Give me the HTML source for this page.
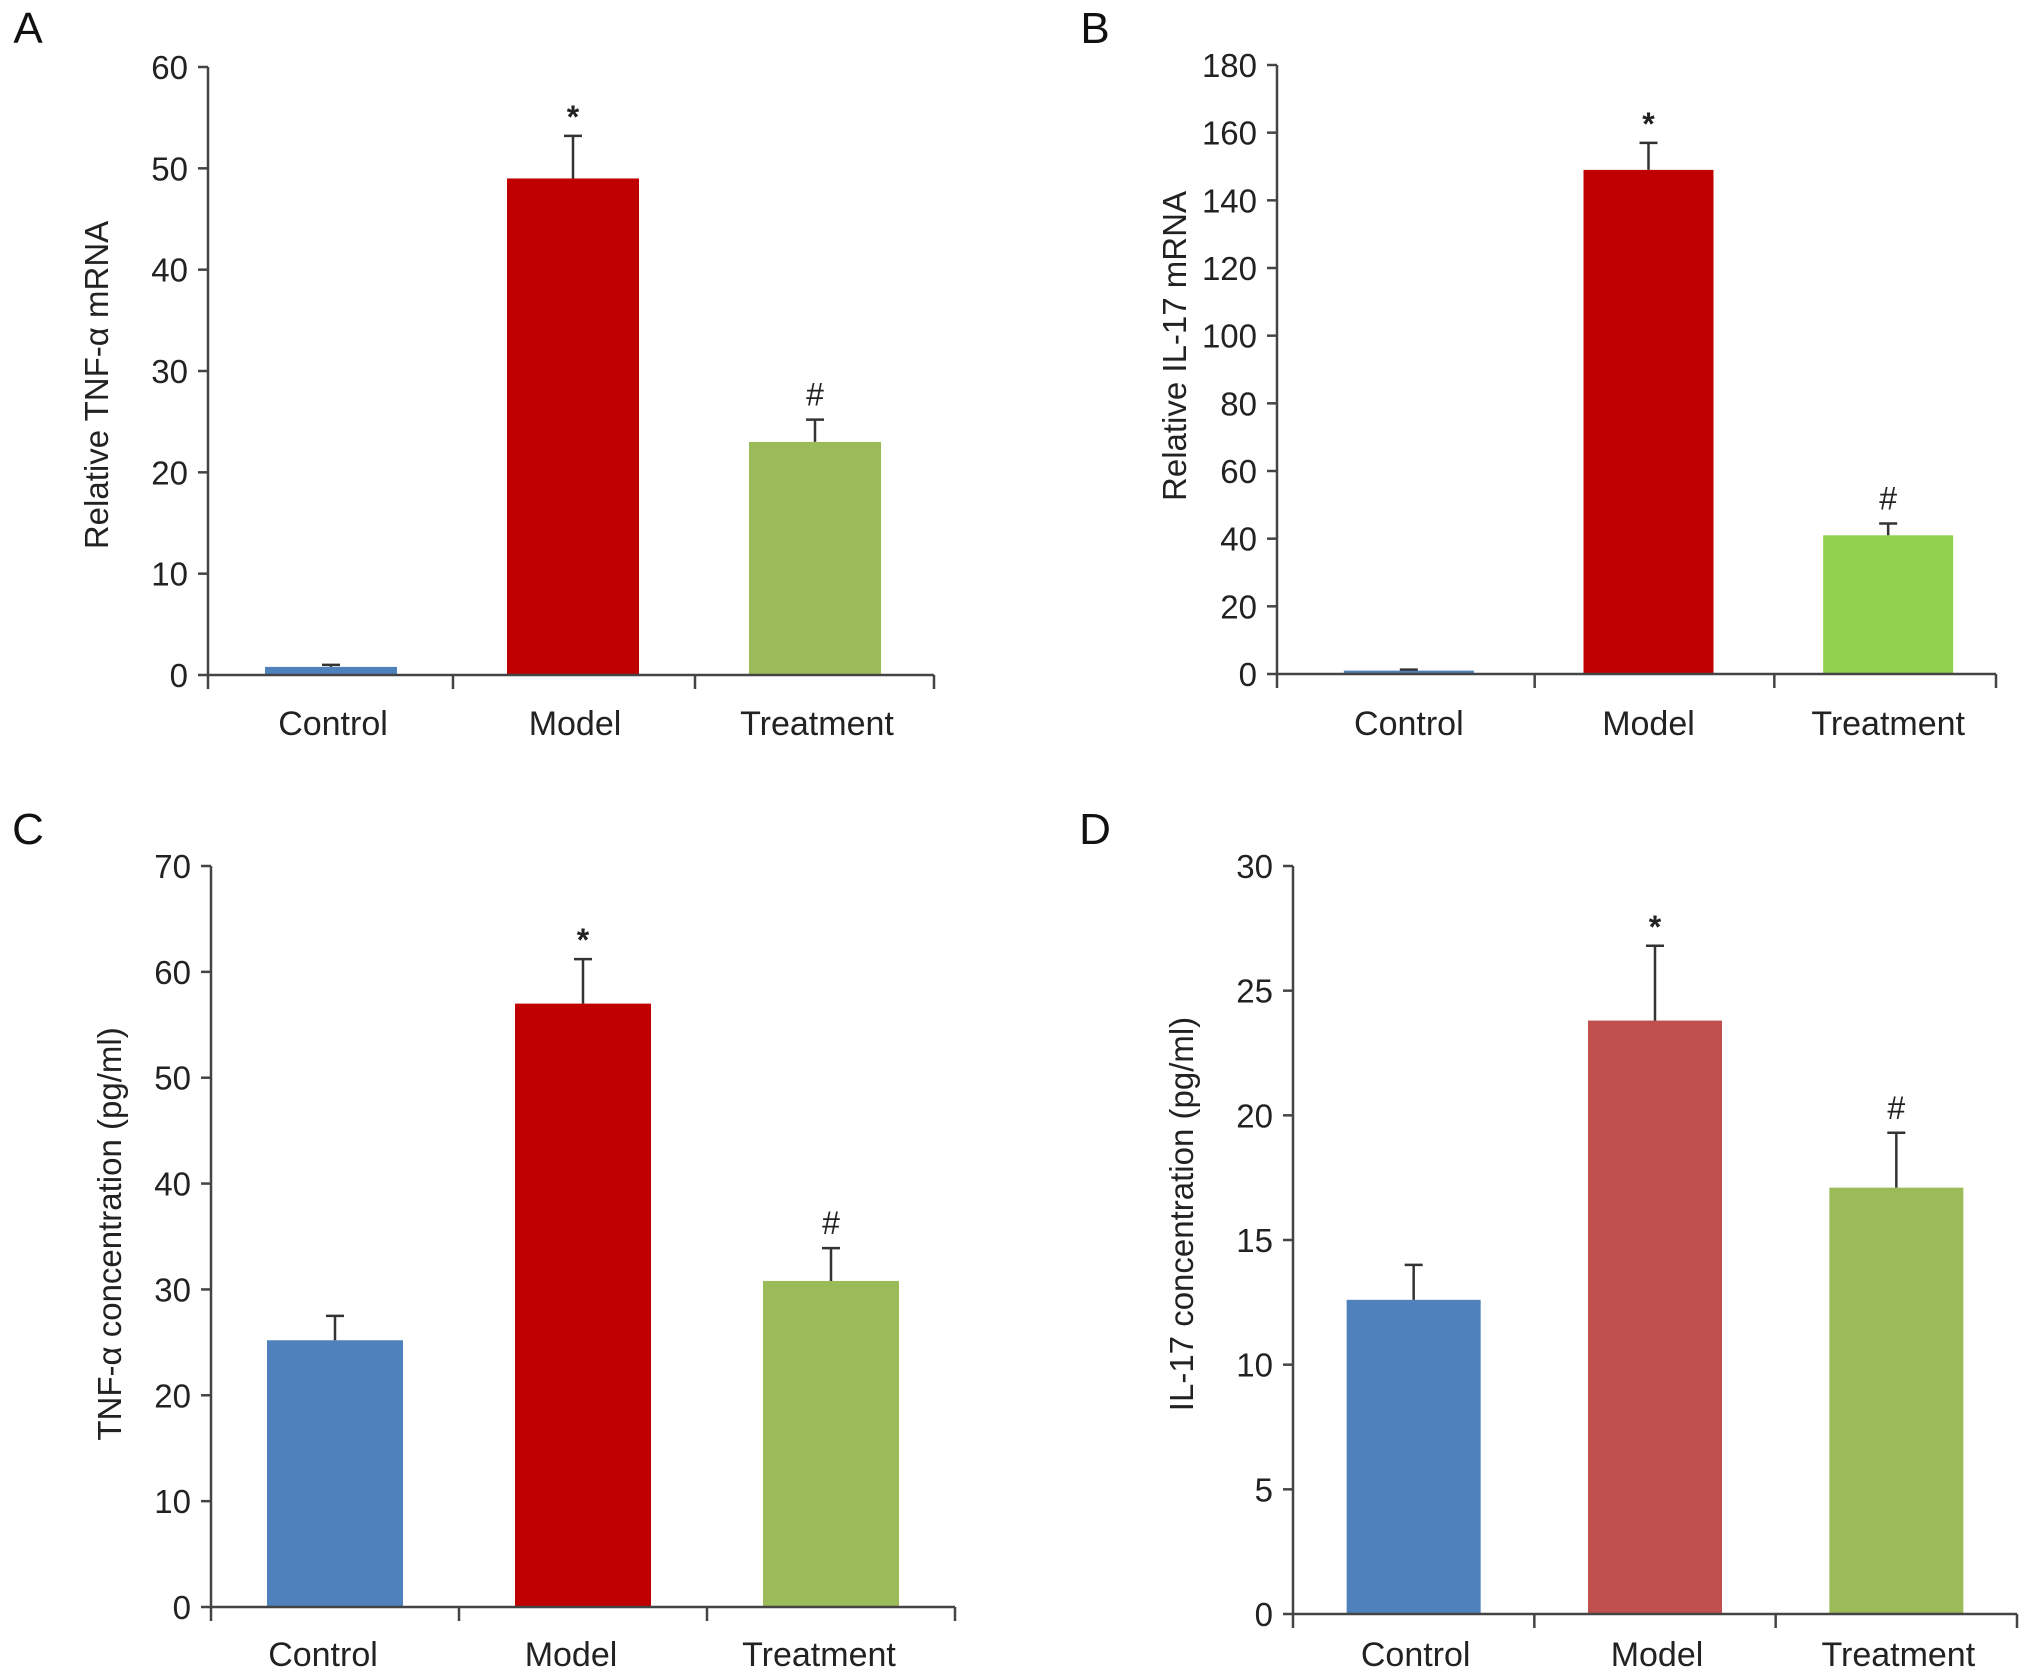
<!DOCTYPE html>
<html><head><meta charset="utf-8"><style>
html,body{margin:0;padding:0;background:#fff;}
svg{display:block;font-family:"Liberation Sans",Arial,sans-serif;}
</style></head><body>
<svg id="fig" width="2032" height="1680" viewBox="0 0 2032 1680"></svg>
<script>
const categories = ["Control","Model","Treatment"];
const valuesA = [0.8, 49, 23];
const errorsA = [1.0, 53.2, 25.2];
const ticksA = [0,10,20,30,40,50,60];
const valuesB = [1, 149, 41];
const errorsB = [1.3, 157, 44.5];
const ticksB = [0,20,40,60,80,100,120,140,160,180];
const valuesC = [25.2, 57, 30.8];
const errorsC = [27.5, 61.2, 33.9];
const ticksC = [0,10,20,30,40,50,60,70];
const valuesD = [12.6, 23.8, 17.1];
const errorsD = [14, 26.8, 19.3];
const ticksD = [0,5,10,15,20,25,30];
const marksA = ["", "*", "#"];
const marksB = ["", "*", "#"];
const marksC = ["", "*", "#"];
const marksD = ["", "*", "#"];

const NS="http://www.w3.org/2000/svg";
const svg=document.getElementById('fig');
function mk(tag,attrs,parent){const e=document.createElementNS(NS,tag);for(const k in attrs)e.setAttribute(k,attrs[k]);(parent||svg).appendChild(e);return e;}

const panels=[
 {id:'a',letter:'A',lx:28,ly:28,x0:208,x1:934,yTop:67,yBot:675,max:60,ticks:ticksA,vals:valuesA,errs:errorsA,marks:marksA,colors:['#4f81bd','#c00000','#9bbb59'],barW:132,title:'Relative TNF-α mRNA',tx:97,ty:385,catY:735,shift:2,lshift:4},
 {id:'b',letter:'B',lx:1095,ly:28,x0:1277,x1:1996,yTop:65,yBot:674,max:180,ticks:ticksB,vals:valuesB,errs:errorsB,marks:marksB,colors:['#4f81bd','#c00000','#92d050'],barW:130,title:'Relative IL-17 mRNA',tx:1175,ty:346,catY:735,shift:12,lshift:12},
 {id:'c',letter:'C',lx:28,ly:829,x0:211,x1:955,yTop:866,yBot:1607,max:70,ticks:ticksC,vals:valuesC,errs:errorsC,marks:marksC,colors:['#4f81bd','#c00000','#9bbb59'],barW:136,title:'TNF-α concentration (pg/ml)',tx:110,ty:1234,catY:1666,shift:0,lshift:-12},
 {id:'d',letter:'D',lx:1095,ly:829,x0:1293,x1:2017,yTop:866,yBot:1614,max:30,ticks:ticksD,vals:valuesD,errs:errorsD,marks:marksD,colors:['#4f81bd','#c0504d','#9bbb59'],barW:134,title:'IL-17 concentration (pg/ml)',tx:1182,ty:1214,catY:1666,shift:0,lshift:2}
];

panels.forEach(p=>{
  const g=mk('g',{});
  
  
  const yS=v=>p.yBot-(v/p.max)*(p.yBot-p.yTop);
  const slot=(p.x1-p.x0)/categories.length;
  const xC=i=>p.x0+slot*(i+0.5)+p.shift;
  const L=mk('text',{x:p.lx,y:p.ly+15,'font-size':44,'text-anchor':'middle',fill:'#111'},g);L.textContent=p.letter;
  
  
  p.vals.forEach((v,i)=>{
    const r=mk('rect',{x:xC(i)-p.barW/2,y:yS(v),width:p.barW,height:p.yBot-yS(v),fill:p.colors[i]},g);
    
    
    const ey=yS(p.errs[i]);
    const e=mk('path',{d:`M${xC(i)} ${yS(v)}V${ey}M${xC(i)-9} ${ey}H${xC(i)+9}`,stroke:'#333','stroke-width':2.5,fill:'none'},g);
    
    
    if(p.marks[i]){
      const isStar=p.marks[i]==='*';
      const t=mk('text',{x:xC(i),y:ey-(isStar?8:14),'font-size':isStar?32:32,'font-weight':isStar?'bold':'normal','text-anchor':'middle',fill:'#222'},g);
      t.textContent=p.marks[i];
      
      
    }
  });
  const ax=mk('path',{d:`M${p.x0} ${p.yTop}V${p.yBot}H${p.x1}`,stroke:'#444','stroke-width':2.5,fill:'none'},g);
  
  
  p.ticks.forEach(t=>{
    const y=yS(t);
    mk('line',{x1:p.x0-10,x2:p.x0,y1:y,y2:y,stroke:'#444','stroke-width':2.5},g);
    const tl=mk('text',{x:p.x0-20,y:y+12,'font-size':33,'text-anchor':'end',fill:'#222'},g);
    tl.textContent=t;
    
    
  });
  for(let i=0;i<=categories.length;i++){
    const x=p.x0+slot*i+(i>0&&i<categories.length?p.shift*1.5:0);
    mk('line',{x1:x,x2:x,y1:p.yBot,y2:p.yBot+14,stroke:'#444','stroke-width':2.5},g);
  }
  categories.forEach((c,i)=>{
    const t=mk('text',{x:xC(i)+p.lshift-p.shift,y:p.catY,'font-size':34,'text-anchor':'middle',fill:'#222'},g);
    t.textContent=c;
    
    
  });
  const tt=mk('text',{x:p.tx,y:p.ty,'font-size':33,'text-anchor':'middle',fill:'#222',transform:`rotate(-90 ${p.tx} ${p.ty})`,dy:11},g);
  tt.textContent=p.title;
  
  
});
</script>
</body></html>
